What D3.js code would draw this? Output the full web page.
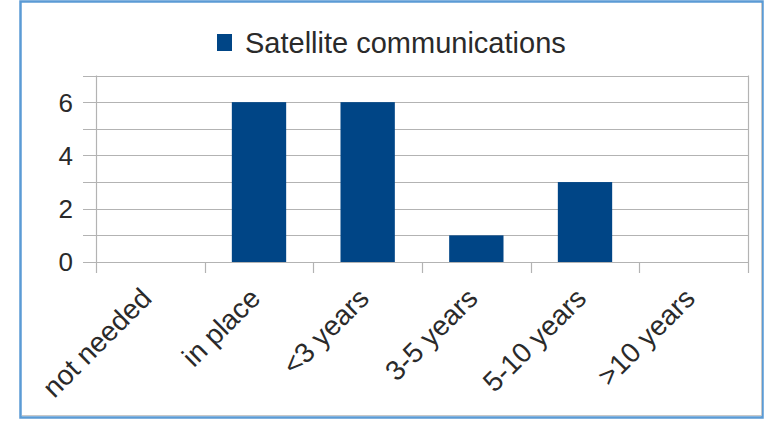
<!DOCTYPE html>
<html><head><meta charset="utf-8">
<script src="https://cdn.jsdelivr.net/npm/d3@7"></script>
<style>html,body{margin:0;padding:0;background:#fff;}svg{display:block;}</style>
</head><body>
<svg id="chart" width="765" height="424"></svg>
<script>
const categories = ["not needed", "in place", "<3 years", "3-5 years", "5-10 years", ">10 years"];
const values = [0, 6, 6, 1, 3, 0];
const seriesName = "Satellite communications";
const gridTicks = [0, 1, 2, 3, 4, 5, 6, 7];
const labelTicks = [0, 2, 4, 6];

(function () {
const svg = d3.select("#chart");
const font = "'Liberation Sans', Arial, sans-serif";
const pl = 96, pr = 748, pt = 75.5, pb = 262;

// frame
svg.append("rect").attr("x", 20.5).attr("y", 1.5).attr("width", 742).attr("height", 416)
  .attr("fill", "#fff").attr("stroke", "#5b9bd5").attr("stroke-width", 2.5);
svg.append("path").attr("d", "M22,415.5H761.5V3").attr("fill", "none").attr("stroke", "#c8c8c8").attr("stroke-width", 1);

const x = d3.scaleBand().domain(categories).range([pl, pr]).paddingInner(0.5).paddingOuter(0.25);
const xb = d3.scaleBand().domain(categories).range([pl, pr]);
const y = d3.scaleLinear().domain([0, 7]).range([pb, pt]);

// gridlines
svg.append("g").selectAll("line").data(gridTicks).join("line")
  .attr("x1", 83).attr("x2", pr)
  .attr("y1", d => Math.round(y(d)) + 0.5).attr("y2", d => Math.round(y(d)) + 0.5)
  .attr("stroke", "#b3b3b3").attr("stroke-width", 1.2);

// category ticks (boundaries)
const bounds = categories.map(c => xb(c)).concat([pr]);
svg.append("g").selectAll("line").data(bounds).join("line")
  .attr("x1", d => Math.round(d) + 0.5).attr("x2", d => Math.round(d) + 0.5)
  .attr("y1", (d, i) => (i === 0 || i === bounds.length - 1) ? pt : pb)
  .attr("y2", 273)
  .attr("stroke", "#b3b3b3").attr("stroke-width", 1.2);

// bars
svg.append("g").selectAll("rect").data(values).join("rect")
  .attr("x", (d, i) => x(categories[i]))
  .attr("width", x.bandwidth())
  .attr("y", d => y(d))
  .attr("height", d => y(0) - y(d))
  .attr("fill", "#004586");

// y labels
svg.append("g").selectAll("text").data(labelTicks).join("text")
  .attr("x", 73).attr("y", d => y(d))
  .attr("dy", "0.36em")
  .attr("text-anchor", "end")
  .attr("font-family", font).attr("font-size", 26).attr("fill", "#2a2a2a")
  .text(d => d);

// x labels
svg.append("g").selectAll("text").data(categories).join("text")
  .attr("transform", d => `translate(${xb(d) + xb.bandwidth() / 2 + 3},${300}) rotate(-45)`)
  .attr("text-anchor", "end")
  .attr("font-family", font).attr("font-size", 28).attr("fill", "#2a2a2a")
  .text(d => d);

// legend
svg.append("rect").attr("x", 217).attr("y", 34).attr("width", 15).attr("height", 17).attr("fill", "#004586");
svg.append("text").attr("x", 245).attr("y", 53).attr("font-family", font).attr("font-size", 29)
  .attr("fill", "#2a2a2a").text(seriesName);
})();
</script>
</body></html>
